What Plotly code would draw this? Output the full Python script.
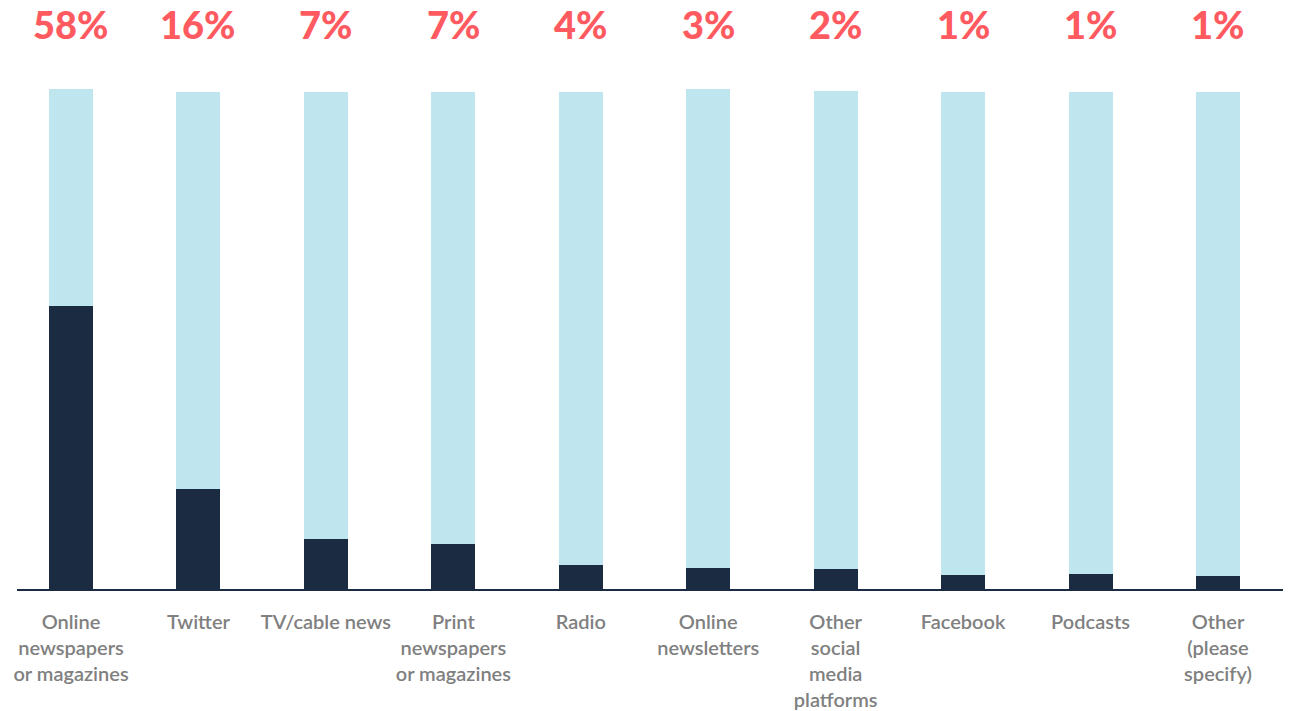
import plotly.graph_objects as go

# categories and values
categories = ["Online<br>newspapers<br>or magazines", "Twitter", "TV/cable news",
              "Print<br>newspapers<br>or magazines", "Radio", "Online<br>newsletters",
              "Other<br>social<br>media<br>platforms", "Facebook", "Podcasts",
              "Other<br>(please<br>specify)"]
share = [56.6, 20.0, 10.0, 9.0, 4.8, 4.2, 4.0, 2.8, 3.0, 2.6]
rest = [43.4, 79.4, 89.4, 90.4, 94.6, 95.8, 95.6, 96.6, 96.4, 96.8]
pct_labels = ["58%", "16%", "7%", "7%", "4%", "3%", "2%", "1%", "1%", "1%"]

dark = "#1b2c42"
light = "#bfe6ee"
red = "#ff5a5f"

fig = go.Figure()
fig.add_trace(go.Bar(x=categories, y=share, marker=dict(color=dark, line=dict(width=0)),
                     width=0.345, hoverinfo="skip"))
fig.add_trace(go.Bar(x=categories, y=rest, marker=dict(color=light, line=dict(width=0)),
                     width=0.345, hoverinfo="skip"))

# percentage labels above each bar
for cat, lab in zip(categories, pct_labels):
    fig.add_annotation(x=cat, xref="x", y=1.11, yref="paper", text=lab,
                       showarrow=False, yanchor="middle",
                       font=dict(family="Lato", size=38, color=red, weight=900))

# page body has an 8px margin, so margins are shifted by 8
fig.update_layout(
    barmode="stack",
    showlegend=False,
    width=1291, height=711,
    margin=dict(l=9, r=8, t=72, b=130),
    plot_bgcolor="white", paper_bgcolor="white",
    xaxis=dict(range=[-0.424, 9.573], showline=True, linecolor=dark, linewidth=2,
               showgrid=False, automargin=False, tickangle=0,
               tickfont=dict(family="Lato", size=20, color="#808080", weight=600),
               ticklabelstandoff=14),
    yaxis=dict(range=[0, 101.8], visible=False, showgrid=False, automargin=False),
)

fig.write_html("out.html")
